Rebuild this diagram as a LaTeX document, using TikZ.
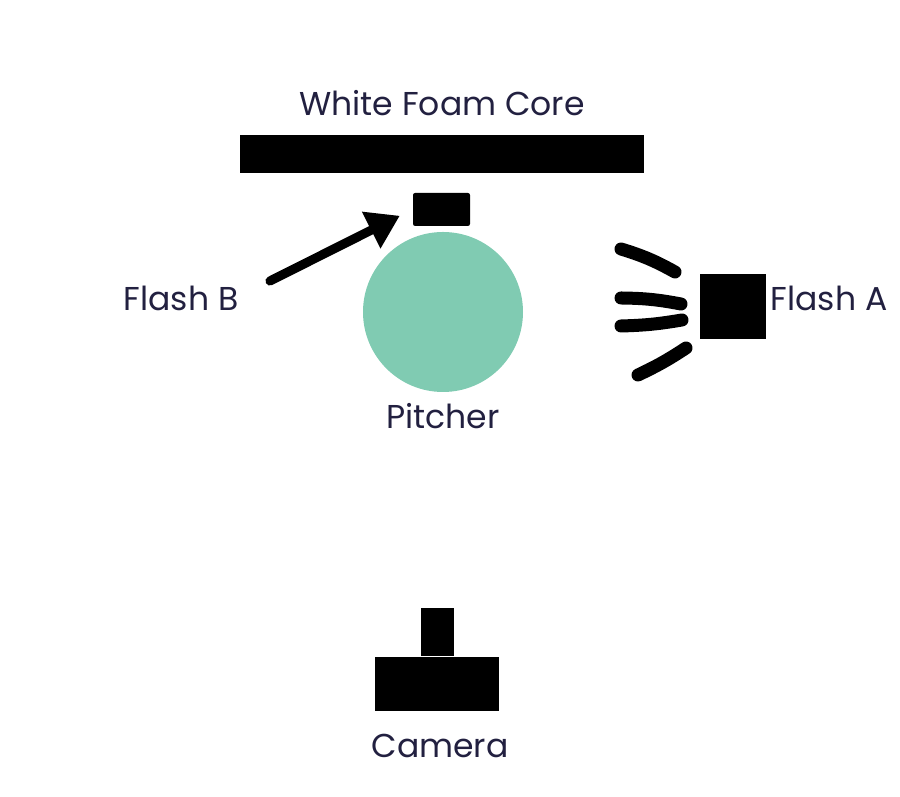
\documentclass[tikz,border=0pt]{standalone}
\usepackage{fontspec}
\setmainfont{Poppins}
\usetikzlibrary{arrows.meta}
\definecolor{labelink}{RGB}{34,32,64}
\definecolor{pitchergreen}{RGB}{128,203,178}

\begin{document}
\begin{tikzpicture}[
  block/.style={
    rectangle,
    fill=black,
    draw=none,
    inner sep=0pt
  },
  caption/.style={
    inner sep=1pt,
    text=labelink,
    font=\fontsize{9.4}{11}\selectfont
  },
  ray/.style={
    line width=3.7pt,
    line cap=round
  },
  pointer/.style={
    -{Triangle[length=3.2mm,width=3.9mm]},
    line width=2.6pt,
    line cap=round
  }
]

\path[use as bounding box] (0,0) rectangle (9,7.97);

\node[block, minimum width=4.04cm, minimum height=0.38cm] (foam) at (4.42,6.43) {};
\node[caption] (foamlabel) at (4.42,6.94) {White Foam Core};

\node[block, rounded corners=0.6pt, minimum width=0.57cm, minimum height=0.33cm] (flashb) at (4.415,5.875) {};
\node[caption] (flashblabel) at (1.81,4.99) {Flash B};
\coordinate (flashbtail) at (2.70,5.16);

\node[circle, fill=pitchergreen, minimum size=1.6cm, inner sep=0pt] (pitcher) at (4.43,4.85) {};
\node[caption] (pitcherlabel) at (4.43,3.81) {Pitcher};

\node[block, minimum width=0.66cm, minimum height=0.65cm] (flasha) at (7.33,4.905) {};
\node[caption] (flashalabel) at (8.29,4.99) {Flash A};

\node[block, minimum width=1.24cm, minimum height=0.54cm] (cambody) at (4.37,1.13) {};
\node[block, minimum width=0.33cm, minimum height=0.48cm, anchor=south] (camtop) at (cambody.north) {};
\node[caption] (cameralabel) at (4.40,0.51) {Camera};

\draw[pointer, shorten >=1.4mm] (flashbtail) -- (flashb.west);

% light from flash A
\draw[ray] (6.21,5.48) to[bend left=6] (6.75,5.25);
\draw[ray] (6.21,4.99) to[bend left=5] (6.81,4.93);
\draw[ray] (6.21,4.71) to[bend right=4] (6.82,4.77);
\draw[ray] (6.38,4.22) to[bend right=4] (6.86,4.49);

\end{tikzpicture}
\end{document}
